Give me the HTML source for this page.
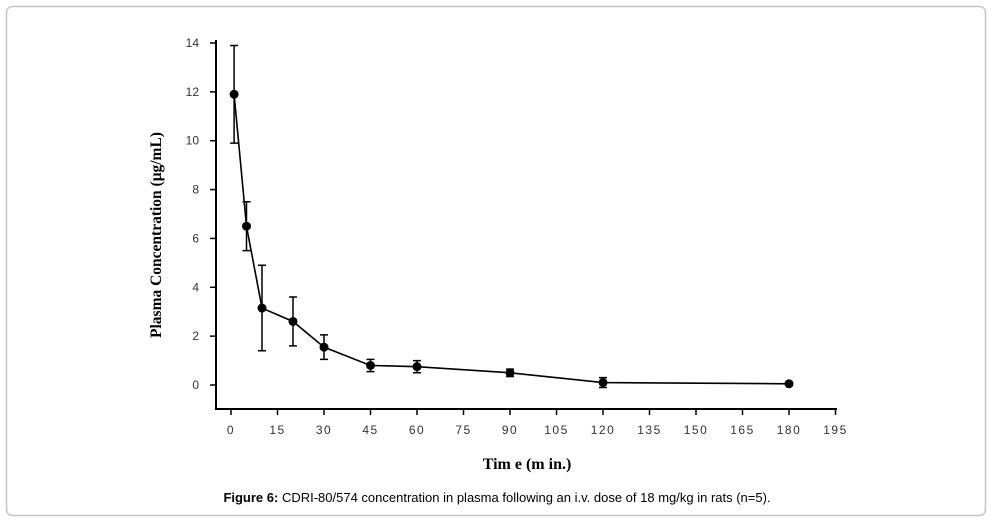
<!DOCTYPE html>
<html><head><meta charset="utf-8"><style>
body{margin:0;background:#fff;width:1000px;height:523px;overflow:hidden}
svg{display:block}
</style></head><body>
<svg width="1000" height="523">
<rect x="6.5" y="6.5" width="979" height="509" rx="6" fill="#fff" stroke="#c4c4c4" stroke-width="1.5"/>
<g id="chart"></g>
<text x="527" y="469" text-anchor="middle" font-family="Liberation Serif, serif" font-weight="bold" font-size="16">Tim e (m in.)</text>
<text transform="translate(161,235) rotate(-90)" text-anchor="middle" font-family="Liberation Serif, serif" font-weight="bold" font-size="15.5">Plasma Concentration (μg/mL)</text>
<text x="497" y="502" text-anchor="middle" font-family="Liberation Sans, sans-serif" font-size="13"><tspan font-weight="bold">Figure 6:</tspan> CDRI-80/574 concentration in plasma following an i.v. dose of 18 mg/kg in rats (n=5).</text>
</svg>
<script>
const times=[1,5,10,20,30,45,60,90,120,180];
const conc=[11.9,6.5,3.15,2.6,1.55,0.8,0.75,0.5,0.1,0.05];
const errs=[2.0,1.0,1.75,1.0,0.5,0.25,0.25,0.15,0.2,0.05];
const xTicks=[0,15,30,45,60,75,90,105,120,135,150,165,180,195];
const yTicks=[0,2,4,6,8,10,12,14];
const NS='http://www.w3.org/2000/svg';
const g=document.getElementById('chart');
function X(v){return 231+v*(789-231)/180;}
function Y(v){return 385-v*(385-43)/14;}
function mk(t,a){const e=document.createElementNS(NS,t);for(const k in a)e.setAttribute(k,a[k]);g.appendChild(e);return e;}
let e=mk('line',{x1:216,y1:40,x2:216,y2:409,stroke:'#000','stroke-width':2});


e=mk('line',{x1:215,y1:409,x2:837,y2:409,stroke:'#000','stroke-width':2});


yTicks.forEach(v=>{
 let t=mk('line',{x1:210,y1:Y(v),x2:216,y2:Y(v),stroke:'#000','stroke-width':1.5});
 
 
 let l=mk('text',{x:199,y:Y(v)+4,'text-anchor':'end','font-family':'Liberation Sans, sans-serif','font-size':12,fill:'#333'});
 l.textContent=v;
 
 
});
xTicks.forEach(v=>{
 let t=mk('line',{x1:X(v),y1:409,x2:X(v),y2:415,stroke:'#000','stroke-width':1.5});
 
 
 let l=mk('text',{x:X(v),y:434,'text-anchor':'middle','font-family':'Liberation Sans, sans-serif','font-size':12,fill:'#333','letter-spacing':'1.5'});
 l.textContent=v;
 
 
});
const pts=times.map((t,i)=>X(t)+','+Y(conc[i])).join(' ');
e=mk('polyline',{points:pts,fill:'none',stroke:'#000','stroke-width':1.6});


times.forEach((t,i)=>{
 const x=X(t),y1=Y(conc[i]+errs[i]),y2=Y(conc[i]-errs[i]);
 let b=mk('path',{d:`M${x},${y1}V${y2}M${x-4},${y1}H${x+4}M${x-4},${y2}H${x+4}`,stroke:'#000','stroke-width':1.5,fill:'none'});
 
 
 let c=mk('circle',{cx:x,cy:Y(conc[i]),r:4.5,fill:'#000'});
 
 
});
</script>
</body></html>
